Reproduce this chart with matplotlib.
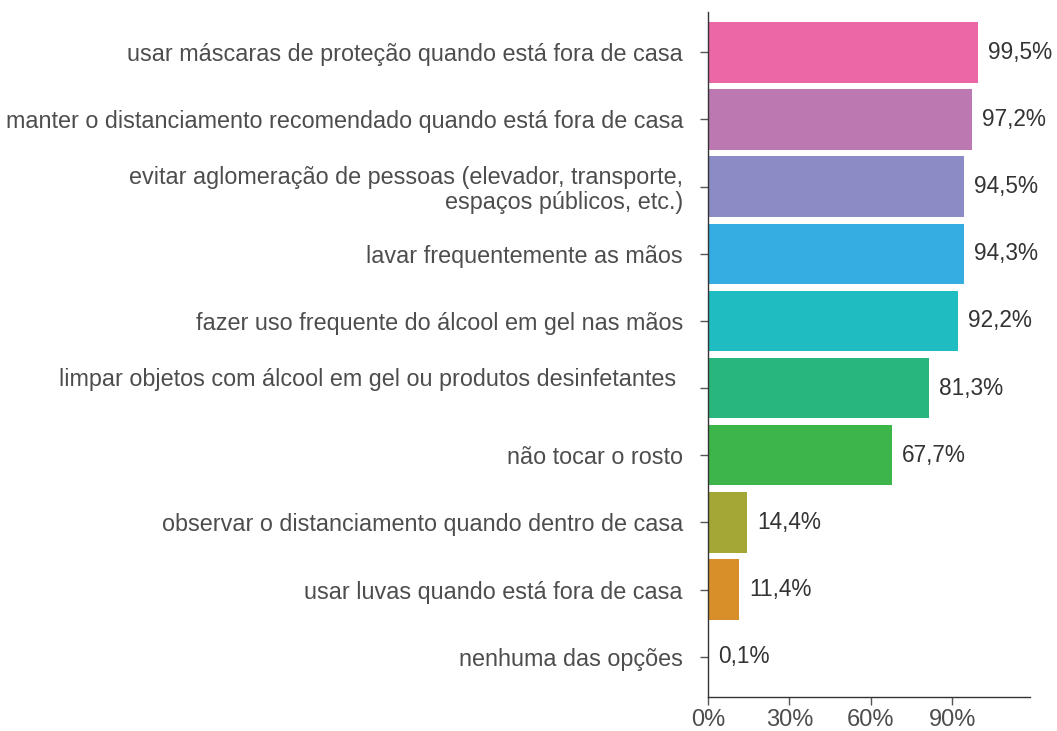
import matplotlib
matplotlib.use("Agg")
import matplotlib.pyplot as plt

# categories top to bottom
labels = [
    "usar máscaras de proteção quando está fora de casa",
    "manter o distanciamento recomendado quando está fora de casa",
    "evitar aglomeração de pessoas (elevador, transporte,\nespaços públicos, etc.)",
    "lavar frequentemente as mãos",
    "fazer uso frequente do álcool em gel nas mãos",
    "limpar objetos com álcool em gel ou produtos desinfetantes \n",
    "não tocar o rosto",
    "observar o distanciamento quando dentro de casa",
    "usar luvas quando está fora de casa",
    "nenhuma das opções",
]
values = [99.5, 97.2, 94.5, 94.3, 92.2, 81.3, 67.7, 14.4, 11.4, 0.1]
value_text = ["99,5%", "97,2%", "94,5%", "94,3%", "92,2%",
              "81,3%", "67,7%", "14,4%", "11,4%", "0,1%"]
colors = ["#EC67A6", "#BC78B0", "#8B8BC5", "#35ACE2", "#1FBCC1",
          "#28B67C", "#3DB54A", "#A4A636", "#D98F29", "#E0574E"]
xticks = [0, 30, 60, 90]

plt.rcParams["font.family"] = ["Liberation Sans", "DejaVu Sans"]
text_col = "#4D4D4D"

fig = plt.figure(figsize=(10.57, 7.31), dpi=100)
ax = fig.add_axes([708 / 1057, (731 - 697) / 731, (1030 - 708) / 1057, (697 - 12) / 731])

ypos = list(range(len(values)))[::-1]
ax.barh(ypos, values, height=0.9, color=colors)
for y, v, t in zip(ypos, values, value_text):
    ax.text(v + 3.7, y, t, va="center", ha="left", fontsize=16.3, color="#333333")

ax.set_yticks(ypos)
ax.set_yticklabels(labels, fontsize=16.8, color=text_col, linespacing=1.12)
ax.set_xticks(xticks)
ax.set_xticklabels([f"{x}%" for x in xticks], fontsize=17, color=text_col)
ax.set_xlim(0, 118.7)
ax.set_ylim(-0.6, 9.6)

for s in ("top", "right"):
    ax.spines[s].set_visible(False)
for s in ("left", "bottom"):
    ax.spines[s].set_color("#333333")
    ax.spines[s].set_linewidth(1.0)
ax.tick_params(axis="both", colors="#555555", length=6, width=1)
ax.tick_params(axis="y", pad=12, labelcolor=text_col)
ax.tick_params(axis="x", pad=3, labelcolor=text_col)

fig.savefig("out.png", dpi=100)
